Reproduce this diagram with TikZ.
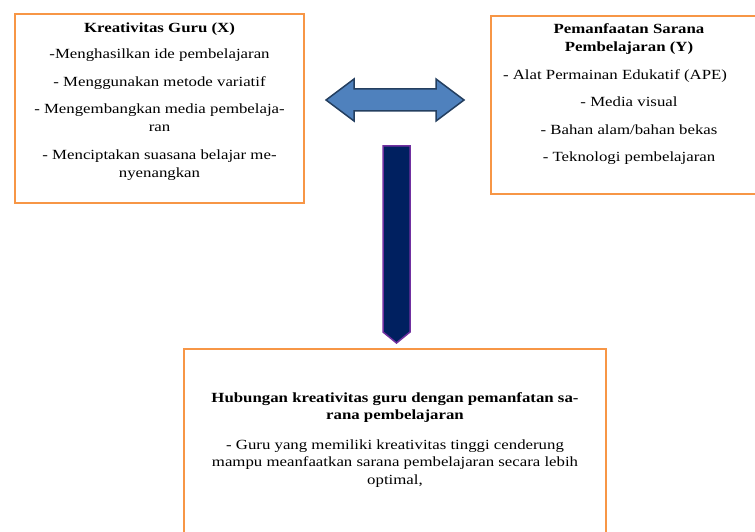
\documentclass[tikz,border=0pt]{standalone}
\usepackage{fontspec}
\setmainfont{Liberation Serif}[FakeStretch=1.2]
\usetikzlibrary{positioning}

\definecolor{boxorange}{HTML}{F79646}
\definecolor{arrowblue}{HTML}{4F81BD}
\definecolor{arrowline}{HTML}{243F60}
\definecolor{navy}{HTML}{002060}
\definecolor{violet}{HTML}{7030A0}

\begin{document}
\begin{tikzpicture}[x=1pt,y=-1pt]
    \tikzset{frame/.style={draw=boxorange,line width=2pt,anchor=north west,inner sep=0pt},
      txt/.style={align=center,inner sep=0pt,anchor=north,font=\fontsize{14}{17.5}\selectfont}}
    \useasboundingbox (0,0) rectangle (755,532);
    \clip (0,0) rectangle (755,532);
    \node[frame,minimum width=289pt,minimum height=189pt] (guru) at (14,13) {};
    \node[frame,minimum width=276pt,minimum height=178pt] (sarana) at (490,15) {};
    \node[frame,minimum width=422pt,minimum height=200pt] (hubungan) at (183,348) {};
    \node[txt,below=9.5pt of guru.north] (guru-text) {\textbf{Kreativitas Guru (X)}\\[9pt]
      -Menghasilkan ide pembelajaran\\[10pt]
      - Menggunakan metode variatif\\[10pt]
      - Mengembangkan media pembelaja-\\[0.5pt]ran\\[10.5pt]
      - Menciptakan suasana belajar me-\\[0.5pt]nyenangkan};
    \node[txt,below=8.5pt of sarana.north] (sarana-text) {\textbf{Pemanfaatan Sarana}\\\textbf{Pembelajaran (Y)}\\[10.5pt]
      - Alat Permainan Edukatif (APE)\rule{28pt}{0pt}\\[10pt]
      - Media visual\\[10pt]
      - Bahan alam/bahan bekas\\[10pt]
      - Teknologi pembelajaran};
    \node[txt,below=44pt of hubungan.north] (hubungan-text) {\textbf{Hubungan kreativitas guru dengan pemanfatan sa-}\\\textbf{rana pembelajaran}\\[12pt]
      - Guru yang memiliki kreativitas tinggi cenderung\\
      mampu meanfaatkan sarana pembelajaran secara lebih\\
      optimal,};
    \draw[fill=arrowblue,draw=arrowline,line width=1.5pt,line join=miter]
      (326,100) -- (354,79) -- (354,89) -- (436,89) -- (436,79) -- (464,100)
      -- (436,121) -- (436,111) -- (354,111) -- (354,121) -- cycle;
    \draw[fill=navy,draw=violet,line width=1.5pt]
      (383,146) -- (410,146) -- (410,332) -- (396.5,343) -- (383,332) -- cycle;
\end{tikzpicture}
\end{document}
